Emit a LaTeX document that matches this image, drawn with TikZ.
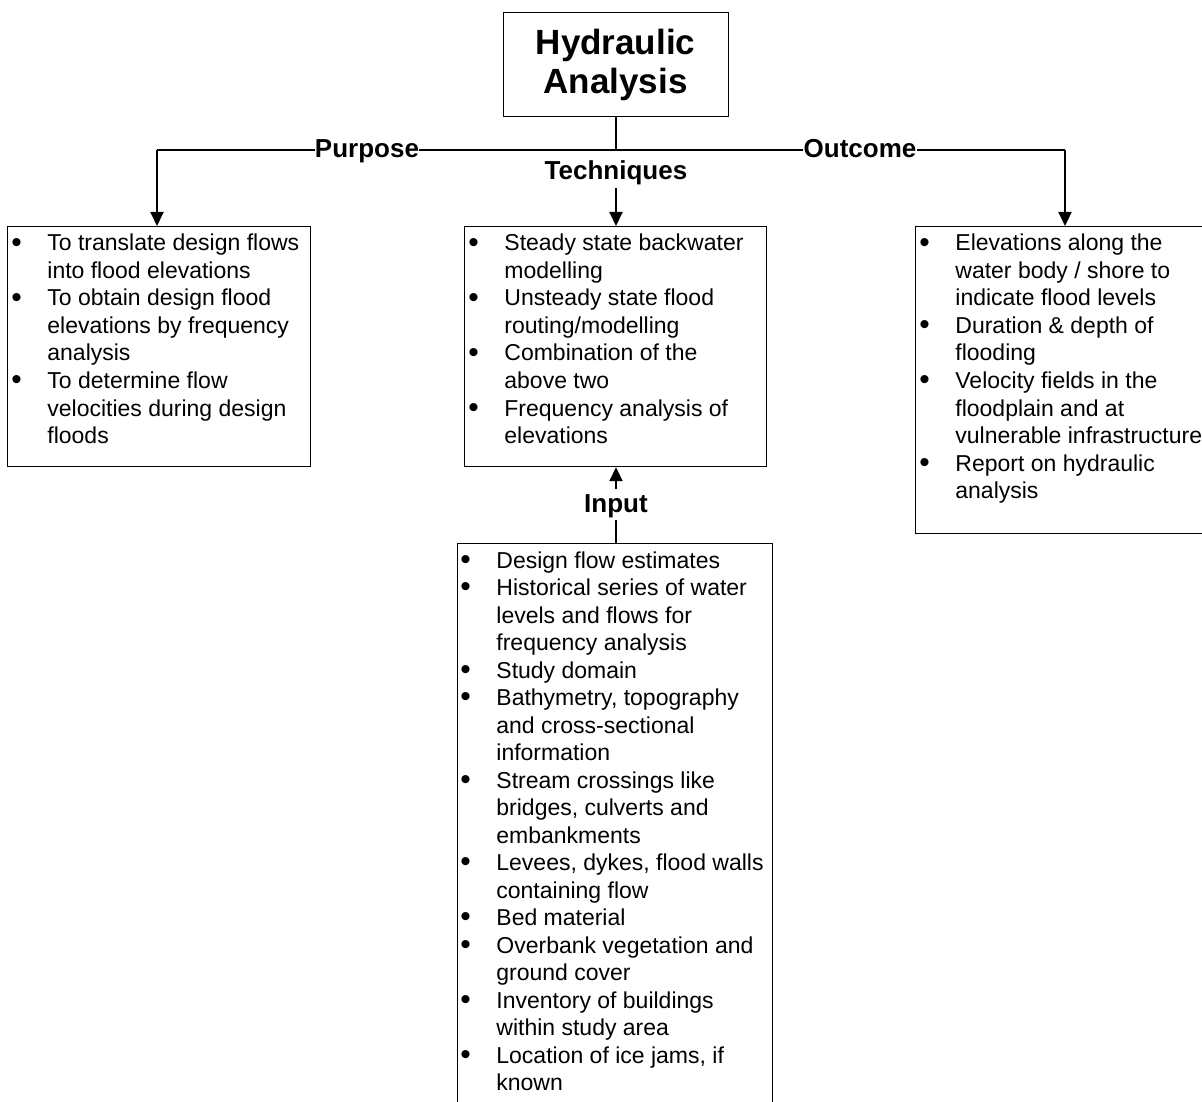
\documentclass[tikz,border=0pt]{standalone}
\usepackage{fontspec}
\setmainfont{Liberation Sans}
\usetikzlibrary{arrows.meta}

% text sizes
\newcommand\bodyfont{\fontsize{11.5pt}{13.75pt}\selectfont}
\newcommand\tagfont{\fontsize{13pt}{15pt}\selectfont\bfseries}
\newcommand\headfont{\fontsize{17.5pt}{19.5pt}\selectfont\bfseries}
% bullet list set as a two-column table: bullet, then the line
\newcommand\bitem{\makebox[18pt][l]{\raisebox{-0.6pt}{\scalebox{1.3}{\textbullet}}}}
\newcommand\blist[1]{\begin{tabular}[t]{@{}l@{}l@{}}#1\end{tabular}}

\begin{document}
\begin{tikzpicture}[x=0.5pt,y=-0.5pt,
  box/.style={draw,line width=0.6pt,rectangle,anchor=north west,inner sep=0pt},
  listtext/.style={anchor=base west,inner sep=0pt,font=\bodyfont},
  tag/.style={anchor=base,inner sep=0pt,font=\tagfont},
  conn/.style={line width=1pt},
  arr/.style={line width=1pt,-{Triangle[length=7pt,width=6.5pt]}}]

\useasboundingbox (0,0) rectangle (1202,1101);

% title box
\node[box,minimum width=112.5pt,minimum height=52pt] (ha) at (503,12) {};
\node[anchor=base,inner sep=0pt,font=\headfont] (hatext) at (615.5,55)
  {\begin{tabular}[t]{@{}c@{}}Hydraulic\\Analysis\end{tabular}};

% the three branch boxes and the input box
\node[box,minimum width=151.5pt,minimum height=120pt] (pb) at (7,226) {};
\node[box,minimum width=151pt,minimum height=120pt] (tb) at (464,226) {};
\node[box,minimum width=150pt,minimum height=153.5pt] (ob) at (915,226) {};
\node[box,minimum width=157.5pt,minimum height=300pt] (ib) at (457,543) {};

% list texts
\node[listtext] (pbtext) at (11,251) {\blist{%
\bitem & To translate design flows\\
       & into flood elevations\\
\bitem & To obtain design flood\\
       & elevations by frequency\\
       & analysis\\
\bitem & To determine flow\\
       & velocities during design\\
       & floods}};

\node[listtext] (tbtext) at (468,251) {\blist{%
\bitem & Steady state backwater\\
       & modelling\\
\bitem & Unsteady state flood\\
       & routing/modelling\\
\bitem & Combination of the\\
       & above two\\
\bitem & Frequency analysis of\\
       & elevations}};

\node[listtext] (obtext) at (919,251) {\blist{%
\bitem & Elevations along the\\
       & water body / shore to\\
       & indicate flood levels\\
\bitem & Duration \& depth of\\
       & flooding\\
\bitem & Velocity fields in the\\
       & floodplain and at\\
       & vulnerable infrastructure\\
\bitem & Report on hydraulic\\
       & analysis}};

\node[listtext] (ibtext) at (460,568) {\blist{%
\bitem & Design flow estimates\\
\bitem & Historical series of water\\
       & levels and flows for\\
       & frequency analysis\\
\bitem & Study domain\\
\bitem & Bathymetry, topography\\
       & and cross-sectional\\
       & information\\
\bitem & Stream crossings like\\
       & bridges, culverts and\\
       & embankments\\
\bitem & Levees, dykes, flood walls\\
       & containing flow\\
\bitem & Bed material\\
\bitem & Overbank vegetation and\\
       & ground cover\\
\bitem & Inventory of buildings\\
       & within study area\\
\bitem & Location of ice jams, if\\
       & known}};

% branch labels
\node[tag] (purp) at (367,158) {Purpose};
\node[tag] (outc) at (860,158) {Outcome};
\node[tag] (tech) at (616,180) {Techniques};
\node[tag] (inp) at (616,512) {Input};

% branch line corners
\coordinate (jl) at (157,150);
\coordinate (jr) at (1065,150);

% connectors
\draw[conn] (ha.south) -- (ha.south |- jl);
\draw[conn] (jl) -- (jl -| purp.west);
\draw[conn] (jl -| purp.east) -- (jl -| outc.west);
\draw[conn] (jl -| outc.east) -- (jr);
\draw[arr] (jl) -- (jl |- pb.north);
\draw[arr] (jr) -- (jr |- ob.north);
\draw[arr,shorten <=1pt] (tech.south) -- (tech.south |- tb.north);
\draw[arr,shorten <=2.5pt] (inp.north) -- (inp.north |- tb.south);
\draw[conn,shorten <=1pt] (inp.south) -- (inp.south |- ib.north);
\end{tikzpicture}
\end{document}
